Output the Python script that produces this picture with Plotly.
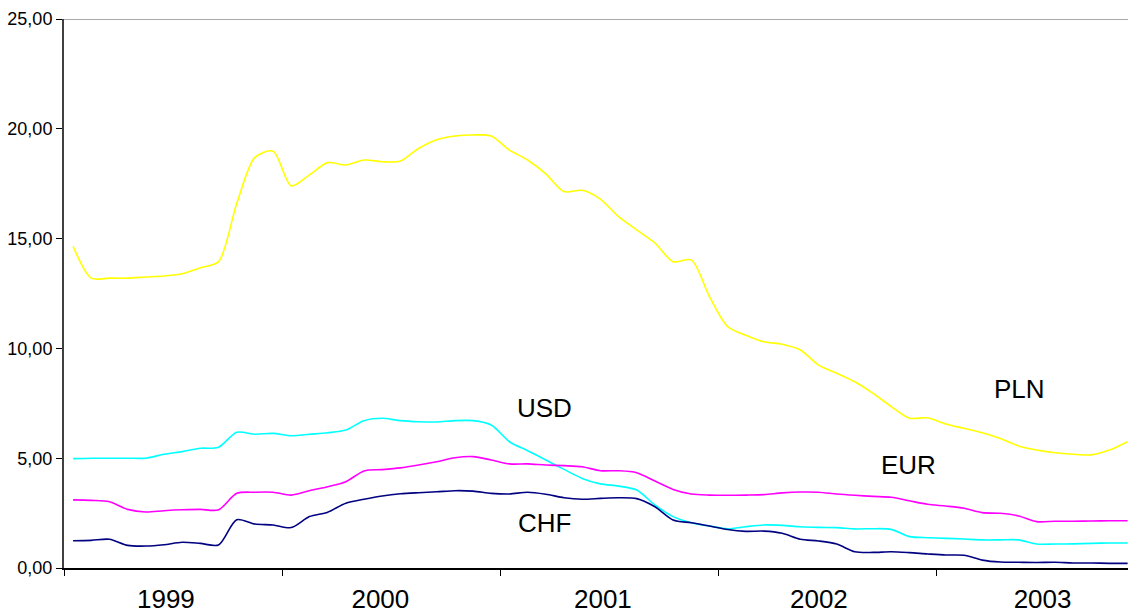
import plotly.graph_objects as go

# Monthly observations, Jan 1999 .. Nov 2003 (59 months)
start_year = 1999
n_months = 59
year_labels = ["1999", "2000", "2001", "2002", "2003"]
y_ticks = [0, 5, 10, 15, 20, 25]

pln = [14.65, 13.2, 13.2, 13.2, 13.25, 13.3, 13.4, 13.67, 13.95, 16.6,
       18.7, 18.98, 17.4, 17.9, 18.46, 18.35, 18.58, 18.5, 18.53, 19.1,
       19.5, 19.67, 19.72, 19.67, 19.03, 18.58, 17.95, 17.14, 17.2, 16.8,
       16.0, 15.4, 14.8, 13.95, 14.03, 12.36, 10.99, 10.6, 10.3, 10.19,
       9.93, 9.24, 8.87, 8.48, 7.95, 7.35, 6.82, 6.84, 6.56, 6.36,
       6.16, 5.9, 5.56, 5.37, 5.25, 5.18, 5.15, 5.37, 5.75]

usd = [4.98, 5.0, 5.0, 5.0, 5.0, 5.18, 5.3, 5.45, 5.5, 6.18,
       6.09, 6.13, 6.02, 6.09, 6.16, 6.28, 6.71, 6.82, 6.71, 6.66,
       6.65, 6.71, 6.71, 6.51, 5.75, 5.34, 4.92, 4.49, 4.08, 3.83,
       3.73, 3.55, 2.87, 2.34, 2.06, 1.91, 1.78, 1.88, 1.96, 1.94,
       1.88, 1.85, 1.84, 1.78, 1.79, 1.76, 1.43, 1.38, 1.35, 1.32,
       1.28, 1.28, 1.28, 1.09, 1.09, 1.1, 1.12, 1.14, 1.14]

eur = [3.1, 3.08, 3.02, 2.67, 2.55, 2.61, 2.65, 2.67, 2.65, 3.4,
       3.45, 3.45, 3.32, 3.52, 3.7, 3.93, 4.42, 4.48, 4.56, 4.69,
       4.84, 5.02, 5.07, 4.92, 4.74, 4.74, 4.69, 4.66, 4.61, 4.43,
       4.43, 4.34, 3.96, 3.58, 3.37, 3.32, 3.31, 3.32, 3.34, 3.42,
       3.46, 3.45, 3.37, 3.31, 3.26, 3.22, 3.06, 2.9, 2.82, 2.72,
       2.52, 2.49, 2.37, 2.11, 2.13, 2.13, 2.14, 2.15, 2.15]

chf = [1.24, 1.26, 1.31, 1.03, 1.0, 1.06, 1.17, 1.12, 1.05, 2.2,
       2.0, 1.96, 1.84, 2.34, 2.54, 2.95, 3.13, 3.28, 3.38, 3.43,
       3.47, 3.52, 3.5, 3.4, 3.37, 3.45, 3.36, 3.2, 3.13, 3.17,
       3.2, 3.16, 2.79, 2.19, 2.06, 1.91, 1.75, 1.67, 1.68, 1.58,
       1.31, 1.23, 1.09, 0.74, 0.71, 0.74, 0.7, 0.64, 0.59, 0.58,
       0.36, 0.27, 0.26, 0.25, 0.26, 0.23, 0.23, 0.21, 0.21]

series = [("PLN", pln, "#FFFF00"), ("USD", usd, "#00FFFF"),
          ("EUR", eur, "#FF00FF"), ("CHF", chf, "#000080")]

# label positions (data coords)
labels = [("PLN", 2003.38, 8.15), ("USD", 2001.2, 7.29),
          ("EUR", 2002.87, 4.67), ("CHF", 2001.2, 2.05)]

# year label anchor positions (fraction of the year)
year_label_pos = [0.467, 0.45, 0.47, 0.46, 0.485]

x = [start_year + (m + 0.5) / 12 for m in range(n_months)]

fig = go.Figure()
for name, vals, col in series:
    fig.add_trace(go.Scatter(x=x, y=vals, mode="lines", name=name,
                             line=dict(color=col, width=1.6, shape="spline", smoothing=0.8),
                             cliponaxis=False, hoverinfo="skip"))

for txt, lx, ly in labels:
    fig.add_annotation(x=lx, y=ly, text=txt, showarrow=False,
                       font=dict(family="Liberation Sans, Arial", size=26, color="black"))

year_mid = [start_year + i + p for i, p in enumerate(year_label_pos)]
year_bounds = [start_year + i for i in range(len(year_labels) + 1)]

fig.update_layout(
    width=1128, height=612,
    margin=dict(l=64, r=0, t=19, b=44),
    paper_bgcolor="white", plot_bgcolor="white",
    showlegend=False,
    separators=",.",
    font=dict(family="Liberation Sans, Arial", color="black"),
    xaxis=dict(range=[start_year, start_year + n_months / 12 - 0.04],
               tickvals=year_mid, ticktext=year_labels, ticks="",
               tickfont=dict(size=26), ticklabelstandoff=7,
               showgrid=False, zeroline=False, automargin=False,
               showline=True, linecolor="black", linewidth=1.5,
               minor=dict(tickvals=year_bounds, ticks="outside", ticklen=6,
                          tickcolor="black", tickwidth=1.2, showgrid=False)),
    yaxis=dict(range=[0, 25], tickvals=y_ticks, tickformat=".2f",
               ticks="outside", ticklen=6, tickcolor="black", tickwidth=1.2,
               tickfont=dict(size=18), automargin=False,
               showgrid=False, zeroline=False,
               showline=True, linecolor="#404040", linewidth=2),
)

fig.add_shape(type="line", xref="paper", yref="y", x0=0, x1=1, y0=25, y1=25,
              line=dict(color="#8c8c8c", width=1.5))

fig.write_html("out.html", config={"displayModeBar": False},
               post_script="document.body.style.margin='0';document.body.style.overflow='hidden';")
